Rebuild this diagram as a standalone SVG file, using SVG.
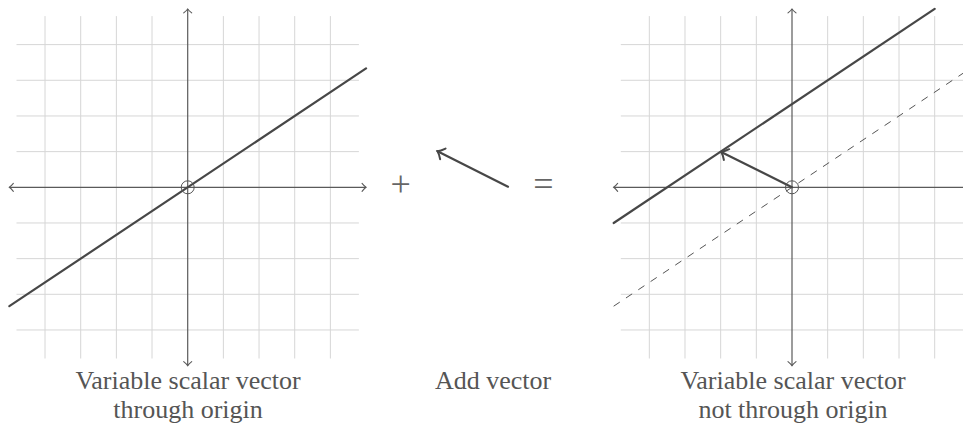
<svg xmlns="http://www.w3.org/2000/svg" width="963" height="425" viewBox="0 0 963 425">
<defs>
<style>
.grid{stroke:#d6d6d6;stroke-width:1;fill:none}
.axis{stroke:#5a5a5a;stroke-width:1.2;fill:none}
.line{stroke:#474747;stroke-width:2.2;fill:none;stroke-linecap:round}
.dash{stroke:#555;stroke-width:1;fill:none;stroke-dasharray:7.4 7.4}
.orig{stroke:#555;stroke-width:1;fill:none}
.lbl{font-size:26px;fill:#555;text-anchor:middle}
.op{font-size:36px;fill:#666;text-anchor:middle}
</style>
<marker id="ah" markerUnits="userSpaceOnUse" markerWidth="12" markerHeight="12" refX="0" refY="0" viewBox="-6 -6 12 12" orient="auto-start-reverse" overflow="visible">
<path d="M-4,-4 Q-1.5,-1 0,0 Q-1.5,1 -4,4" fill="none" stroke="#5a5a5a" stroke-width="1.1" stroke-linecap="round"/>
</marker>
<marker id="vh" markerUnits="userSpaceOnUse" markerWidth="16" markerHeight="16" refX="0" refY="0" viewBox="-8 -8 16 16" orient="auto" overflow="visible">
<path d="M-6,-6 Q-2.5,-1.5 0,0 Q-2.5,1.5 -6,6" fill="none" stroke="#474747" stroke-width="2" stroke-linecap="round"/>
</marker>
<g id="gridlines">
<path class="grid" d="M-142.68,-171.2V171.2M-107.01,-171.2V171.2M-71.34,-171.2V171.2M-35.67,-171.2V171.2M35.67,-171.2V171.2M71.34,-171.2V171.2M107.01,-171.2V171.2M142.68,-171.2V171.2M-171.2,-142.68H171.2M-171.2,-107.01H171.2M-171.2,-71.34H171.2M-171.2,-35.67H171.2M-171.2,35.67H171.2M-171.2,71.34H171.2M-171.2,107.01H171.2M-171.2,142.68H171.2"/>
</g>
</defs>

<g id="left-plot" transform="translate(187.7,187.3)">
<use href="#gridlines"/>
<line class="axis" x1="-178.35" y1="0" x2="178.35" y2="0" marker-start="url(#ah)" marker-end="url(#ah)"/>
<line class="axis" x1="0" y1="178.35" x2="0" y2="-178.35" marker-start="url(#ah)" marker-end="url(#ah)"/>
<line class="line" x1="-178.35" y1="118.9" x2="178.35" y2="-118.9"/>
<circle class="orig" cx="0" cy="0" r="6.5"/>
</g>

<g id="plus"><text class="op" font-family="'Liberation Serif', 'DejaVu Serif', serif" x="400.7" y="196">+</text></g>

<g id="add-vector">
<line class="line" x1="508" y1="186.7" x2="437.5" y2="151.2" marker-end="url(#vh)"/>
</g>

<g id="equals"><text class="op" font-family="'Liberation Serif', 'DejaVu Serif', serif" x="543.3" y="195.5">=</text></g>

<g id="right-plot" transform="translate(792,187.3)">
<use href="#gridlines"/>
<line class="axis" x1="-178.35" y1="0" x2="178.35" y2="0" marker-start="url(#ah)" marker-end="url(#ah)"/>
<line class="axis" x1="0" y1="178.35" x2="0" y2="-178.35" marker-start="url(#ah)" marker-end="url(#ah)"/>
<line class="dash" x1="-178.35" y1="118.9" x2="178.35" y2="-118.9"/>
<line class="line" x1="-178.35" y1="35.67" x2="142.68" y2="-178.35"/>
<line class="line" x1="0" y1="0" x2="-70.8" y2="-35.4" marker-end="url(#vh)"/>
<circle class="orig" cx="0" cy="0" r="6.5"/>
</g>

<g id="labels" font-family="'Liberation Serif', 'DejaVu Serif', serif">
<text class="lbl" x="188" y="389">Variable scalar vector</text>
<text class="lbl" x="188" y="418">through origin</text>
<text class="lbl" x="493" y="389">Add vector</text>
<text class="lbl" x="793" y="389">Variable scalar vector</text>
<text class="lbl" x="793" y="418">not through origin</text>
</g>
</svg>
